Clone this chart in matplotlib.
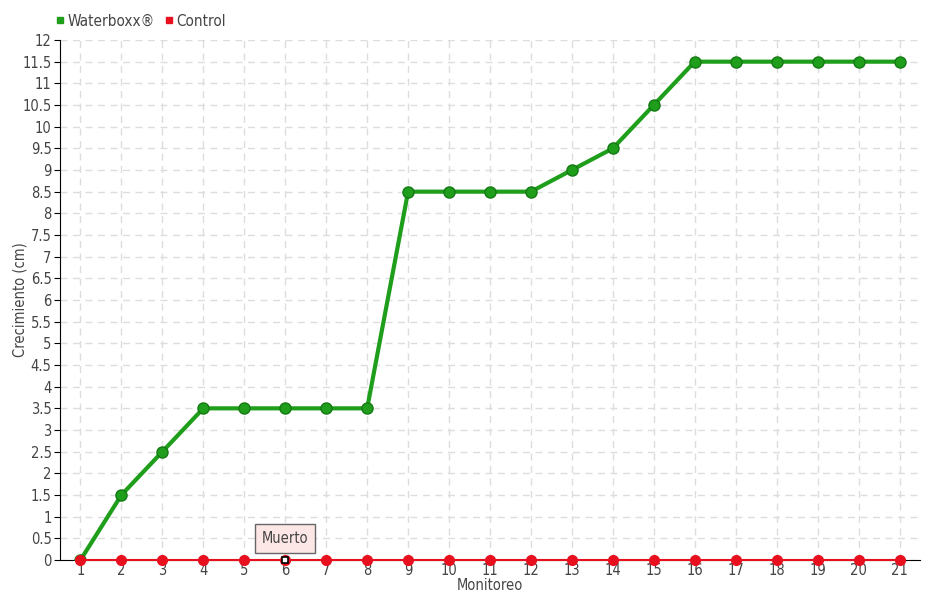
import matplotlib
matplotlib.use("Agg")
import matplotlib.pyplot as plt
from matplotlib.lines import Line2D

monitoreo = list(range(1, 22))
waterboxx = [0, 1.5, 2.5, 3.5, 3.5, 3.5, 3.5, 3.5, 8.5, 8.5, 8.5, 8.5, 9, 9.5, 10.5,
             11.5, 11.5, 11.5, 11.5, 11.5, 11.5]
control = [0] * 21
yticks = [i * 0.5 for i in range(25)]
ytick_labels = [("%g" % v) for v in yticks]

plt.rcParams['font.family'] = ['DejaVu Sans']
plt.rcParams['font.stretch'] = 'condensed'
txt = '#444444'
fs = 10.5

fig = plt.figure(figsize=(9.4, 6), dpi=100)
ax = fig.add_axes([60/940, 1-560/600, 860/940, 520/600])

green = '#1e9e1a'
red = '#e8101e'
ax.plot(monitoreo, waterboxx, color=green, lw=3, marker='o', ms=8,
        mfc=green, mec='#157a15', mew=1, zorder=3)
ax.plot(monitoreo, control, color=red, lw=1.5, marker='o', ms=7,
        mfc=red, mec=red, zorder=4, clip_on=False)
# dead marker
ax.plot([monitoreo[5]], [control[5]], marker='s', ms=5, mfc='white', mec='black',
        mew=1.2, zorder=5, clip_on=False, ls='none')
ax.annotate('Muerto', xy=(monitoreo[5], control[5]), xytext=(0, 15.5),
            textcoords='offset points', ha='center', va='center', fontsize=fs,
            color='#444444',
            bbox=dict(boxstyle='square,pad=0.45', fc='#fde6e6', ec='#666666', lw=1),
            zorder=6)

ax.set_xlim(0.5, 21.5)
ax.set_ylim(0, 12)
ax.set_xticks(monitoreo)
ax.set_xticklabels([str(m) for m in monitoreo])
ax.set_yticks(yticks)
ax.set_yticklabels(ytick_labels)
ax.grid(True, color='#dddddd', ls=(0, (5, 4)), lw=1)
ax.set_axisbelow(True)
for s in ['top', 'right']:
    ax.spines[s].set_visible(False)
ax.spines['left'].set_color('black')
ax.spines['bottom'].set_color('black')
ax.tick_params(axis='y', direction='out', length=4, colors='black', labelcolor=txt,
               labelsize=fs, pad=2)
ax.tick_params(axis='x', direction='out', length=0, labelcolor=txt, labelsize=fs, pad=2)
ax.set_xlabel('Monitoreo', color=txt, fontsize=fs)
ax.xaxis.set_label_coords(0.5, -18/520)
ax.set_ylabel('Crecimiento (cm)', color=txt, fontsize=fs)
ax.yaxis.set_label_coords(-32/860, 0.5)

handles = [Line2D([], [], ls='none', marker='s', ms=5, mfc=green, mec=green),
           Line2D([], [], ls='none', marker='s', ms=5, mfc=red, mec=red)]
fig.legend(handles, ['Waterboxx®', 'Control'], loc='center left',
           bbox_to_anchor=(42/940, 1-21/600), ncol=2, frameon=False,
           handlelength=0.6, handletextpad=0.2, columnspacing=0.6,
           fontsize=fs+0.5, labelcolor=txt)

fig.savefig('out.png', dpi=100)
